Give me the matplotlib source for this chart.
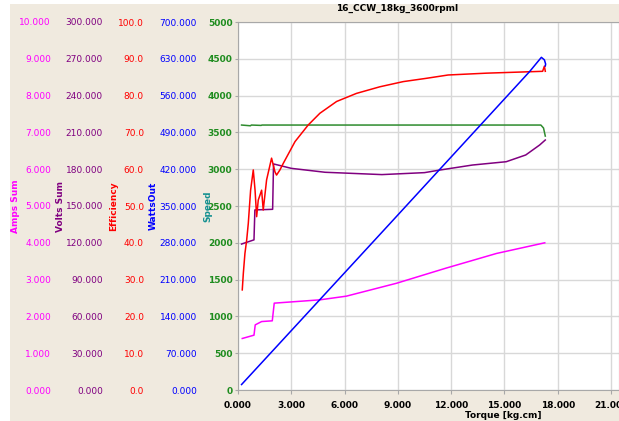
#!/usr/bin/env python3
"""16_CCW_18kg_3600rpml - motor test curves vs torque"""
import matplotlib
matplotlib.use('Agg')
import matplotlib.pyplot as plt
from matplotlib.patches import Rectangle

# ---- data ----
speed_t = [0.2, 0.7, 0.75, 1.3, 1.35, 17.05, 17.2, 17.3]
speed = [3600, 3590, 3600, 3595, 3600, 3600, 3560, 3450]

eff_t = [0.24, 0.30, 0.39, 0.49, 0.58, 0.71, 0.86, 0.96, 1.05, 1.14, 1.33, 1.42, 1.61,
         1.89, 2.08, 2.17, 2.36, 2.55, 3.21, 3.95, 4.61, 5.55, 6.67, 7.99, 9.30, 10.61,
         11.83, 14.0, 15.9, 17.15, 17.25, 17.3]
eff = [27.2, 31.7, 37.1, 40.8, 45.3, 54.3, 59.8, 54.3, 47.1, 51.6, 54.3, 48.9, 57.1,
       63.0, 59.3, 58.4, 59.8, 61.6, 67.5, 72.0, 75.2, 78.4, 80.6, 82.4, 83.8, 84.7,
       85.6, 86.1, 86.4, 86.6, 88.0, 86.6]

volts_t = [0.2, 0.9, 0.95, 1.95, 2.0, 3.0, 4.9, 8.1, 10.5, 11.36, 13.2, 15.1, 16.2, 16.98, 17.3]
volts = [119.0, 122.4, 146.8, 147.3, 184.3, 180.7, 177.5, 175.6, 177.2, 179.3, 183.4,
         186.1, 191.6, 199.7, 203.8]

amps_t = [0.24, 0.9, 0.97, 1.33, 1.93, 2.04, 4.61, 6.1, 8.92, 11.7, 14.55, 17.27]
amps = [1.40, 1.49, 1.77, 1.86, 1.88, 2.36, 2.45, 2.55, 2.90, 3.31, 3.71, 4.00]

watts_t = [0.2, 2.08, 8.74, 16.42, 17.08, 17.25, 17.32, 17.3]
watts = [10.4, 79.2, 323.4, 605.8, 632.8, 628.0, 620.0, 616.3]

x_ticks = [0, 3, 6, 9, 12, 15, 18, 21]

BG = '#F0EADF'
W, H = 619, 421
FS = 6.5
FW = 'bold'

fig = plt.figure(figsize=(W / 100, H / 100), dpi=100, facecolor='white')
fig.patches.append(Rectangle((10 / W, 0), 1, 1 - 4 / H, transform=fig.transFigure,
                             facecolor=BG, edgecolor='none', zorder=-10))

left, bottom, right, top = 238, 390, 619, 22
ax = fig.add_axes([left / W, (H - bottom) / H, (right - left) / W, (bottom - top) / H])
ax.set_facecolor('white')
ax.set_xlim(0, 21.45)
ax.set_ylim(0, 5000)
ax.set_yticks(range(0, 5001, 500))
ax.set_xticks(x_ticks)
ax.set_xticklabels([f'{v:.3f}' for v in x_ticks])
ax.grid(True, color='#D8D8D8', linewidth=1.0)
for s in ax.spines.values():
    s.set_color('#A8A8A8')
ax.tick_params(axis='y', colors='#A8A8A8', labelcolor='#1E8C1E', labelsize=FS, length=2.5, pad=1.5)
ax.tick_params(axis='x', colors='#A8A8A8', labelcolor='black', labelsize=FS, length=3, pad=5)
for lab in ax.get_xticklabels() + ax.get_yticklabels():
    lab.set_fontweight(FW)
ax.set_ylabel('Speed', color='#139090', fontsize=FS, fontweight=FW)
ax.yaxis.set_label_coords((212 - left) / (right - left), 0.5)
ax.set_xlabel('Torque [kg.cm]', fontsize=FS, fontweight=FW, labelpad=0)
ax.xaxis.set_label_coords((503 - left) / (right - left), -(411 - bottom) / (bottom - top))


def side_axis(lim, step, fmt, color, label, tick_right_px, label_right_px):
    a = ax.twinx()
    a.set_ylim(0, lim)
    a.set_yticks([i * step for i in range(11)])
    a.set_yticklabels([fmt.format(i * step) for i in range(11)], fontweight=FW)
    a.yaxis.tick_left()
    a.yaxis.set_label_position('left')
    for s in a.spines.values():
        s.set_visible(False)
    a.spines['left'].set_position(('axes', (tick_right_px + 2 - left) / (right - left)))
    a.tick_params(axis='y', length=0, pad=1.5, labelsize=FS, labelcolor=color)
    a.set_ylabel(label, color=color, fontsize=FS, fontweight=FW)
    a.yaxis.set_label_coords((label_right_px - left) / (right - left), 0.5)
    a.set_xlim(ax.get_xlim())
    return a


ax_amps = side_axis(10, 1, '{:.3f}', '#FF00FF', 'Amps Sum', 51, 20)
ax_volts = side_axis(300, 30, '{:.3f}', '#800080', 'Volts Sum', 103, 65)
ax_eff = side_axis(100, 10, '{:.1f}', '#FF0000', 'Efficiency', 144, 118)
ax_watts = side_axis(700, 70, '{:.3f}', '#0000FF', 'WattsOut', 197, 158)

lw = 1.1
ax.plot(speed_t, speed, color='#2E8B2E', linewidth=lw)
ax_volts.plot(volts_t, volts, color='#800080', linewidth=lw)
ax_eff.plot(eff_t, eff, color='#FF0000', linewidth=lw)
ax_amps.plot(amps_t, amps, color='#FF00FF', linewidth=lw)
ax_watts.plot(watts_t, watts, color='#0000FF', linewidth=lw)

fig.text(397 / W, 1 - 8 / H, '16_CCW_18kg_3600rpml', ha='center', va='center',
         fontsize=FS, fontweight=FW)

fig.savefig('out.png', dpi=100, facecolor=fig.get_facecolor())
